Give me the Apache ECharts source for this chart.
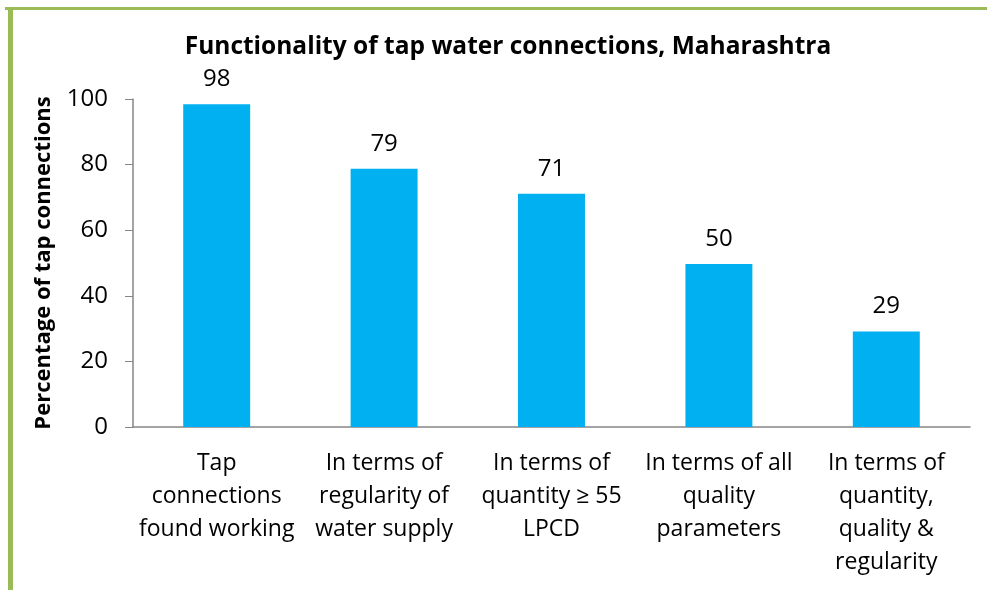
<!DOCTYPE html>
<html lang="en">
<head>
    <meta charset="UTF-8">
    <title>Functionality of tap water connections</title>
    <script src="https://cdn.jsdelivr.net/npm/echarts@6/dist/echarts.min.js"></script>
    <style>
        html, body { margin: 0; padding: 0; background: #fff; }
        #chart { width: 987px; height: 590px; }
    </style>
</head>
<body>
<div id="chart"></div>
<script>
    // data
    var categories = [
        'Tap\nconnections\nfound working',
        'In terms of\nregularity of\nwater supply',
        'In terms of\nquantity \u2265 55\nLPCD',
        'In terms of all\nquality\nparameters',
        'In terms of\nquantity,\nquality &\nregularity'
    ];
    var percentages = [98.4, 78.7, 71.1, 49.7, 29.1];
    var yTicks = [0, 20, 40, 60, 80, 100];

    var font = '"Open Sans", "Noto Sans", sans-serif';
    var chart = echarts.init(document.getElementById('chart'));

    chart.setOption({
        animation: false,
        title: {
            text: 'Functionality of tap water connections, Maharashtra',
            left: 503,
            textAlign: 'center',
            top: 30,
            textStyle: { fontFamily: font, fontSize: 24.5, fontWeight: 'bold', color: '#000' }
        },
        graphic: [
            // green frame on top and left
            { type: 'rect', shape: { x: 5, y: 7, width: 982, height: 3 }, style: { fill: '#9BBB59' } },
            { type: 'rect', shape: { x: 8, y: 7, width: 5, height: 583 }, style: { fill: '#9BBB59' } }
        ],
        grid: { left: 133, right: 17, top: 99, bottom: 163, containLabel: false },
        xAxis: {
            type: 'category',
            data: categories,
            axisLine: { lineStyle: { color: '#868686', width: 1.5 } },
            axisTick: { show: false },
            axisLabel: {
                interval: 0,
                margin: 20,
                lineHeight: 33,
                fontFamily: font, fontSize: 23, color: '#000'
            }
        },
        yAxis: {
            type: 'value',
            min: yTicks[0],
            max: yTicks[yTicks.length - 1],
            interval: 20,
            name: 'Percentage of tap connections',
            nameLocation: 'middle',
            nameGap: 78,
            nameTextStyle: { fontFamily: font, fontSize: 22, fontWeight: 'bold', color: '#000' },
            splitLine: { show: false },
            axisLine: { show: true, lineStyle: { color: '#868686', width: 1.5 } },
            axisTick: { show: true, length: 8, lineStyle: { color: '#868686' } },
            axisLabel: { margin: 25, fontFamily: font, fontSize: 24, color: '#000' }
        },
        series: [{
            type: 'bar',
            data: percentages,
            barWidth: '40%',
            itemStyle: { color: '#00B0F0' },
            label: {
                show: true,
                position: 'top',
                distance: 13,
                fontFamily: font, fontSize: 24, color: '#000',
                formatter: function (p) { return Math.round(p.value); }
            }
        }]
    });
</script>
</body>
</html>
